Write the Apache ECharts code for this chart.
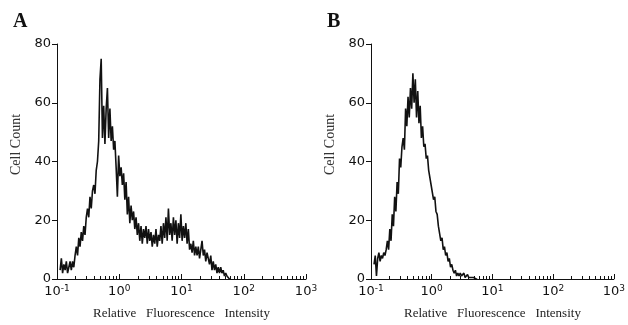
<!DOCTYPE html>
<html>
<head>
<meta charset="utf-8">
<script src="https://cdn.jsdelivr.net/npm/echarts@6/dist/echarts.min.js"></script>
<style>
  html, body { margin: 0; background: #fff; }
  #chart { width: 628px; height: 325px; }
</style>
</head>
<body>
<div id="chart"></div>
<script>
// histogram bins: log10 intensity of first bin and bin width (decades)
const binStart = -0.95
const binStep = 0.02

// panel A counts
const countsA = [
  3, 7, 2, 5, 3, 6, 2, 4, 6, 3,
  6, 4, 8, 11, 8, 14, 11, 16, 13, 18,
  15, 21, 24, 21, 28, 24, 30, 32, 29, 37,
  40, 47, 68, 75, 48, 59, 46, 58, 65, 48,
  58, 47, 52, 44, 47, 38, 28, 42, 35, 38,
  32, 36, 27, 33, 22, 28, 19, 25, 20, 23,
  17, 21, 15, 19, 13, 18, 12, 17, 14, 18,
  12, 17, 13, 16, 11, 15, 12, 17, 11, 15,
  13, 18, 12, 19, 14, 21, 13, 24, 15, 19,
  13, 21, 15, 20, 12, 19, 14, 22, 13, 18,
  14, 19, 12, 17, 10, 12, 9, 13, 8, 11,
  8, 11, 7, 10, 13, 8, 10, 6, 9, 7,
  5, 8, 3, 6, 3, 5, 2, 4, 2, 4,
  2, 3, 1, 2, 1, 1, 0, 0
]

// panel B counts
const countsB = [
  5, 8, 1, 7, 9, 6, 8, 7, 9, 8,
  10, 13, 10, 17, 13, 22, 18, 28, 23, 33,
  29, 41, 38, 45, 48, 44, 58, 52, 62, 55,
  65, 58, 70, 60, 68, 55, 64, 53, 59, 48,
  52, 45, 46, 41, 42, 37, 37, 32, 32, 27,
  28, 23, 22, 18, 18, 13, 14, 10, 11, 8,
  9, 6, 7, 4, 5, 3, 2, 3, 1, 2,
  1, 2, 1, 1, 2, 0.5, 1, 1.5, 0.5, 1,
  0.5, 1, 0.5, 1, 0, 0
]

const panelLetters = ['A', 'B']
const xAxisTitle = 'Relative   Fluorescence   Intensity'
const yAxisTitle = 'Cell Count'

// minor ticks at 2..9 within each decade
const minorTicks = []
for (let n = -1; n < 3; n++) {
  for (let k = 2; k <= 9; k++) minorTicks.push(n + Math.log10(k))
}

const toPoints = counts => counts.map((c, i) => [binStart + i * binStep, c])

const chart = echarts.init(document.getElementById('chart'))

const grids = [
  { left: 57, top: 44, width: 249, height: 235 },
  { left: 371, top: 44, width: 248, height: 235 }
]

const xAxes = []
const yAxes = []
grids.forEach((g, i) => {
  xAxes.push({
    type: 'value',
    gridIndex: i,
    position: 'bottom',
    min: -1,
    max: 3,
    interval: 1,
    name: xAxisTitle,
    nameLocation: 'middle',
    nameGap: 28,
    nameTextStyle: { fontFamily: 'Liberation Serif', fontSize: 13, color: '#222' },
    axisLine: { onZero: false, lineStyle: { color: '#111', width: 1 } },
    axisTick: { inside: true, length: 5, lineStyle: { color: '#111' } },
    splitLine: { show: false },
    axisLabel: {
      margin: 5,
      formatter: v => '{b|10}{s|' + v + '}',
      rich: {
        b: { fontFamily: 'DejaVu Sans', fontSize: 13, color: '#111', lineHeight: 16 },
        s: { fontFamily: 'DejaVu Sans', fontSize: 9, color: '#111', lineHeight: 9, verticalAlign: 'top' }
      }
    }
  })
  xAxes.push({
    type: 'value',
    gridIndex: i,
    position: 'bottom',
    min: -1,
    max: 3,
    axisLine: { show: false, onZero: false },
    axisTick: { inside: true, length: 3, customValues: minorTicks, lineStyle: { color: '#111' } },
    axisLabel: { show: false },
    splitLine: { show: false }
  })
  yAxes.push({
    type: 'value',
    gridIndex: i,
    position: 'left',
    min: 0,
    max: 80,
    interval: 20,
    name: yAxisTitle,
    nameLocation: 'middle',
    nameGap: 34,
    nameTextStyle: { fontFamily: 'Liberation Serif', fontSize: 14, color: '#333', padding: [0, 0, 0, 34] },
    axisLine: { show: true, onZero: false, lineStyle: { color: '#111', width: 1 } },
    axisTick: { length: 5, lineStyle: { color: '#111' } },
    splitLine: { show: false },
    axisLabel: { margin: 6, fontFamily: 'DejaVu Sans', fontSize: 13, color: '#111' }
  })
})

chart.setOption({
  animation: false,
  backgroundColor: '#fff',
  title: panelLetters.map((t, i) => ({
    text: t,
    left: i === 0 ? 8 : 322,
    top: 7,
    textStyle: { fontFamily: 'Liberation Serif', fontSize: 20, fontWeight: 'bold', color: '#111' }
  })),
  grid: grids,
  xAxis: xAxes,
  yAxis: yAxes,
  series: [countsA, countsB].map((counts, i) => ({
    type: 'line',
    xAxisIndex: i * 2,
    yAxisIndex: i,
    data: toPoints(counts),
    showSymbol: false,
    lineStyle: { color: '#111', width: 1.6 }
  }))
})
</script>
</body>
</html>
